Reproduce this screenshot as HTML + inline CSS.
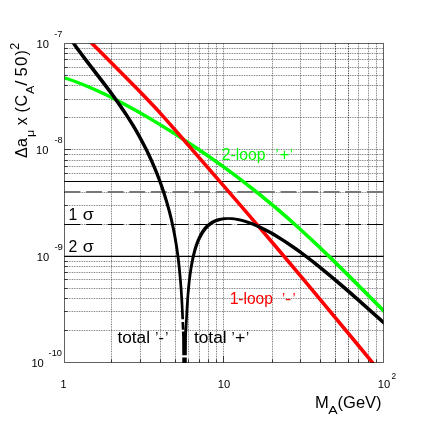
<!DOCTYPE html>
<html><head><meta charset="utf-8"><title>chart</title>
<style>text{font-family:"Liberation Sans",sans-serif}html,body{margin:0;padding:0;background:#fff}body{width:427px;height:427px;position:relative;overflow:hidden;font-family:"Liberation Sans",sans-serif}</style>
</head><body>
<svg width="427" height="427" viewBox="0 0 427 427" style="position:absolute;left:0;top:0;will-change:transform">
<defs><clipPath id="c"><rect x="64.5" y="43.5" width="319.0" height="319.5"/></clipPath></defs>
<path d="M64.5 149.5H383.5M64.5 117.5H383.5M64.5 99.5H383.5M64.5 85.5H383.5M64.5 75.5H383.5M64.5 67.5H383.5M64.5 59.5H383.5M64.5 53.5H383.5M64.5 48.5H383.5M64.5 256.5H383.5M64.5 224.5H383.5M64.5 205.5H383.5M64.5 192.5H383.5M64.5 181.5H383.5M64.5 173.5H383.5M64.5 166.5H383.5M64.5 160.5H383.5M64.5 154.5H383.5M64.5 330.5H383.5M64.5 311.5H383.5M64.5 298.5H383.5M64.5 288.5H383.5M64.5 279.5H383.5M64.5 272.5H383.5M64.5 266.5H383.5M64.5 261.5H383.5M111.5 43.5V362.5M140.5 43.5V362.5M160.5 43.5V362.5M175.5 43.5V362.5M188.5 43.5V362.5M199.5 43.5V362.5M208.5 43.5V362.5M216.5 43.5V362.5M223.5 43.5V362.5M272.5 43.5V362.5M300.5 43.5V362.5M320.5 43.5V362.5M335.5 43.5V362.5M348.5 43.5V362.5M358.5 43.5V362.5M368.5 43.5V362.5M376.5 43.5V362.5" stroke="#000" stroke-opacity="0.11" stroke-width="1" fill="none"/>
<path d="M64.5 149.5H383.5M64.5 117.5H383.5M64.5 99.5H383.5M64.5 85.5H383.5M64.5 75.5H383.5M64.5 67.5H383.5M64.5 59.5H383.5M64.5 53.5H383.5M64.5 48.5H383.5M64.5 256.5H383.5M64.5 224.5H383.5M64.5 205.5H383.5M64.5 192.5H383.5M64.5 181.5H383.5M64.5 173.5H383.5M64.5 166.5H383.5M64.5 160.5H383.5M64.5 154.5H383.5M64.5 330.5H383.5M64.5 311.5H383.5M64.5 298.5H383.5M64.5 288.5H383.5M64.5 279.5H383.5M64.5 272.5H383.5M64.5 266.5H383.5M64.5 261.5H383.5M111.5 43.5V362.5M140.5 43.5V362.5M160.5 43.5V362.5M175.5 43.5V362.5M188.5 43.5V362.5M199.5 43.5V362.5M208.5 43.5V362.5M216.5 43.5V362.5M223.5 43.5V362.5M272.5 43.5V362.5M300.5 43.5V362.5M320.5 43.5V362.5M335.5 43.5V362.5M348.5 43.5V362.5M358.5 43.5V362.5M368.5 43.5V362.5M376.5 43.5V362.5" stroke="#000" stroke-opacity="0.46" stroke-width="1.0" stroke-dasharray="1 1.46" fill="none"/>
<path d="M335.5 43.5V362.5M348.5 43.5V362.5" stroke="#000" stroke-opacity="0.45" stroke-dasharray="1 1.46" fill="none"/>
<g stroke="#000" stroke-opacity="0.7" stroke-width="1" fill="none">
<path d="M64.5 149.5h6.5"/>
<path d="M64.5 117.5h3.2"/>
<path d="M64.5 99.5h3.2"/>
<path d="M64.5 85.5h3.2"/>
<path d="M64.5 75.5h3.2"/>
<path d="M64.5 67.5h3.2"/>
<path d="M64.5 59.5h3.2"/>
<path d="M64.5 53.5h3.2"/>
<path d="M64.5 48.5h3.2"/>
<path d="M64.5 256.5h6.5"/>
<path d="M64.5 224.5h3.2"/>
<path d="M64.5 205.5h3.2"/>
<path d="M64.5 192.5h3.2"/>
<path d="M64.5 181.5h3.2"/>
<path d="M64.5 173.5h3.2"/>
<path d="M64.5 166.5h3.2"/>
<path d="M64.5 160.5h3.2"/>
<path d="M64.5 154.5h3.2"/>
<path d="M64.5 330.5h3.2"/>
<path d="M64.5 311.5h3.2"/>
<path d="M64.5 298.5h3.2"/>
<path d="M64.5 288.5h3.2"/>
<path d="M64.5 279.5h3.2"/>
<path d="M64.5 272.5h3.2"/>
<path d="M64.5 266.5h3.2"/>
<path d="M64.5 261.5h3.2"/>
<path d="M111.5 362.5v-3.2"/>
<path d="M140.5 362.5v-3.2"/>
<path d="M160.5 362.5v-3.2"/>
<path d="M175.5 362.5v-3.2"/>
<path d="M188.5 362.5v-3.2"/>
<path d="M199.5 362.5v-3.2"/>
<path d="M208.5 362.5v-3.2"/>
<path d="M216.5 362.5v-3.2"/>
<path d="M223.5 362.5v-6.5"/>
<path d="M272.5 362.5v-3.2"/>
<path d="M300.5 362.5v-3.2"/>
<path d="M320.5 362.5v-3.2"/>
<path d="M335.5 362.5v-3.2"/>
<path d="M348.5 362.5v-3.2"/>
<path d="M358.5 362.5v-3.2"/>
<path d="M368.5 362.5v-3.2"/>
<path d="M376.5 362.5v-3.2"/>
</g>
<path d="M64.5 181.5H383.5" stroke="#000" stroke-width="1.1"/>
<path d="M64.5 256.4H383.5" stroke="#000" stroke-width="1.1"/>
<path d="M64.5 192H383.5" stroke="#777" stroke-width="2" stroke-dasharray="15.9 5.7"/>
<path d="M64.5 224.5H383.5" stroke="#000" stroke-width="1.1" stroke-dasharray="15.9 5.7"/>
<g clip-path="url(#c)" stroke="none">
<polygon points="56.73,74.76 59.33,74.77 66.93,76.98 76.33,80.17 86.13,83.97 95.33,87.91 105.33,92.55 115.73,97.72 126.33,103.29 137.73,109.57 149.73,116.47 162.13,123.89 174.73,131.71 187.13,139.66 199.33,147.76 211.33,155.98 223.33,164.49 233.13,171.66 242.73,178.89 252.13,186.18 261.33,193.51 270.73,201.22 279.73,208.80 288.93,216.77 298.33,225.13 314.73,240.22 332.33,257.06 349.33,273.83 384.73,309.33 392.73,317.22 392.93,317.26 392.93,319.80 390.33,319.80 390.13,319.70 377.33,307.02 345.13,274.72 328.33,258.18 318.33,248.56 308.73,239.52 299.33,230.87 290.33,222.78 281.73,215.25 273.33,208.06 264.73,200.89 256.13,193.91 247.33,186.95 238.73,180.32 229.73,173.57 220.73,166.99 209.33,158.90 197.73,150.93 186.13,143.21 174.33,135.60 162.33,128.11 150.73,121.10 139.13,114.35 127.73,107.97 117.33,102.40 107.33,97.31 97.73,92.70 88.73,88.67 80.33,85.19 72.13,82.11 64.33,79.50 56.73,77.30" fill="#00ff00"/>
<polygon points="78.73,30.56 81.33,30.62 90.73,39.72 100.93,49.78 126.73,75.70 144.73,94.06 157.33,107.37 169.33,120.63 179.93,132.72 237.33,198.90 257.33,222.17 278.13,246.61 302.33,275.31 327.73,305.70 359.33,343.84 392.73,384.48 392.93,384.53 392.93,387.07 390.33,387.07 390.13,386.95 359.73,349.94 330.73,314.90 303.13,281.83 277.13,250.97 255.73,225.81 235.33,202.06 177.73,135.65 166.73,123.10 159.33,114.86 152.13,107.05 144.73,99.24 136.33,90.57 101.33,55.25 89.73,43.77 78.73,33.10" fill="#ff0000"/>
<polygon points="56.73,18.31 59.13,18.31 59.33,18.41 63.93,25.74 68.73,33.07 73.33,39.83 78.33,46.91 87.73,59.61 104.73,81.61 111.33,90.34 118.93,100.83 125.93,111.05 130.73,118.45 135.13,125.59 139.33,132.79 143.13,139.70 146.73,146.66 150.33,154.08 153.73,161.57 156.93,169.12 160.33,177.79 163.33,186.10 166.13,194.57 168.73,203.21 171.13,212.09 173.13,220.38 175.13,229.81 176.73,238.50 178.13,247.27 179.53,257.62 180.73,268.34 181.73,279.26 182.53,290.00 183.13,299.84 183.73,311.71 184.53,331.21 185.73,307.78 186.33,298.26 187.33,286.12 188.53,275.26 189.93,265.66 191.53,257.22 192.53,252.89 193.53,249.11 194.53,245.79 195.73,242.29 196.93,239.23 198.33,236.13 199.73,233.44 201.13,231.12 202.73,228.82 204.33,226.85 205.73,225.36 207.73,223.55 209.73,222.05 211.73,220.81 213.73,219.81 216.13,218.86 218.73,218.10 221.13,217.63 223.73,217.31 226.33,217.19 230.33,217.20 232.73,217.32 235.73,217.64 239.13,218.22 242.33,218.93 245.93,219.92 249.73,221.15 253.33,222.49 257.33,224.14 261.33,225.95 265.33,227.91 269.73,230.22 274.33,232.80 278.73,235.41 288.13,241.41 297.33,247.76 307.33,255.13 317.73,263.21 328.73,272.14 338.93,280.71 350.13,290.37 388.33,324.22 392.73,328.09 392.93,328.12 392.93,330.66 390.33,330.66 390.13,330.58 357.33,301.47 344.73,290.42 330.73,278.47 317.73,267.78 308.33,260.37 299.33,253.59 290.73,247.44 282.73,242.06 273.73,236.47 269.13,233.83 264.73,231.45 260.73,229.42 256.73,227.54 252.73,225.81 248.73,224.25 244.73,222.87 241.33,221.87 237.73,220.99 234.33,220.35 231.13,219.94 228.13,219.75 225.73,219.90 223.33,220.22 220.93,220.73 218.73,221.38 216.33,222.32 214.33,223.32 212.33,224.55 210.33,226.04 208.33,227.84 206.73,229.55 205.33,231.28 203.73,233.56 202.33,235.88 200.73,238.96 199.33,242.11 198.13,245.21 196.93,248.77 195.93,252.15 194.93,256.00 193.93,260.42 192.93,265.54 192.13,270.30 191.33,275.81 190.53,282.31 189.33,294.76 188.33,309.27 186.93,336.51 186.73,367.27 182.33,367.27 182.13,337.31 180.73,304.97 179.93,291.65 179.13,281.08 177.93,268.38 176.73,258.09 175.33,248.08 173.73,238.41 171.93,229.09 169.93,220.07 167.73,211.33 165.13,202.13 162.33,193.21 159.13,183.96 156.13,176.01 152.73,167.68 149.33,159.95 145.73,152.32 141.73,144.40 137.73,137.00 133.33,129.37 128.73,121.84 124.73,115.62 120.73,109.63 116.13,103.01 111.33,96.33 103.33,85.63 84.33,61.01 74.73,47.97 69.73,40.84 65.33,34.32 61.13,27.87 56.73,20.85" fill="#000"/>
<path d="M180.2 319.3h3.9v2.6h-3.9zM180.2 329.8h4v1.6h-4zM181 355.3h7.6v2.1h-7.6z" fill="#fff" style="display:inline"/>
</g>
<rect x="64.5" y="43.5" width="319.0" height="319.0" fill="none" stroke="#000" stroke-opacity="0.62" stroke-width="1"/>
<text x="36.6" y="47.9" font-size="10.6" textLength="12.4" lengthAdjust="spacingAndGlyphs">10</text>
<text x="54.2" y="36.9" font-size="8.4" textLength="8.2" lengthAdjust="spacingAndGlyphs">-7</text>
<text x="36.0" y="154.2" font-size="10.6" textLength="12.4" lengthAdjust="spacingAndGlyphs">10</text>
<text x="54.4" y="143.2" font-size="8.4" textLength="8.2" lengthAdjust="spacingAndGlyphs">-8</text>
<text x="36.8" y="260.6" font-size="10.6" textLength="12.4" lengthAdjust="spacingAndGlyphs">10</text>
<text x="54.4" y="249.6" font-size="8.4" textLength="8.6" lengthAdjust="spacingAndGlyphs">-9</text>
<text x="31.4" y="366.9" font-size="10.6" textLength="12.4" lengthAdjust="spacingAndGlyphs">10</text>
<text x="48.6" y="355.9" font-size="8.4" textLength="13.4" lengthAdjust="spacingAndGlyphs">-10</text>
<text x="60.6" y="388.2" font-size="10.8">1</text>
<text x="217.8" y="388.2" font-size="10.8" textLength="12.4" lengthAdjust="spacingAndGlyphs">10</text>
<text x="377.8" y="388.0" font-size="10.8" textLength="12.4" lengthAdjust="spacingAndGlyphs">10</text>
<text x="391.6" y="378.6" font-size="8.3">2</text>
<text x="315" y="407.8" font-size="16.5">M</text>
<text x="328.2" y="414.2" font-size="11.7" textLength="9.4" lengthAdjust="spacingAndGlyphs">A</text>
<text x="337.6" y="407.8" font-size="16.5">(GeV)</text>
<text x="68.6" y="219.5" font-size="15.8">1</text>
<text x="82.8" y="219.8" font-size="16.5" textLength="11.0" lengthAdjust="spacingAndGlyphs">σ</text>
<text x="68.6" y="251.5" font-size="15.8">2</text>
<text x="82.8" y="251.9" font-size="16.5" textLength="11.0" lengthAdjust="spacingAndGlyphs">σ</text>
<text x="221.8" y="159.9" font-size="16" fill="#00ff00" textLength="43.6" lengthAdjust="spacingAndGlyphs">2-loop</text>
<text x="275.6" y="158.6" font-size="14" fill="#00ff00">’</text>
<text x="279.5" y="159.9" font-size="16" fill="#00ff00" textLength="9.9" lengthAdjust="spacingAndGlyphs">+</text>
<text x="289.8" y="158.6" font-size="14" fill="#00ff00">’</text>
<text x="229.8" y="304.3" font-size="16" fill="#ff0000">1</text>
<text x="238.3" y="304.3" font-size="16" fill="#ff0000" textLength="34.6" lengthAdjust="spacingAndGlyphs">-loop</text>
<text x="282.0" y="303.0" font-size="14" fill="#ff0000">’</text>
<text x="285.1" y="304.3" font-size="16" fill="#ff0000" textLength="6.2" lengthAdjust="spacingAndGlyphs">-</text>
<text x="292.5" y="303.0" font-size="14" fill="#ff0000">’</text>
<text x="117.4" y="343.2" font-size="16" textLength="32.6" lengthAdjust="spacingAndGlyphs">total</text>
<text x="155.3" y="341.9" font-size="14">’</text>
<text x="158.6" y="343.2" font-size="16" textLength="5.4" lengthAdjust="spacingAndGlyphs">-</text>
<text x="165.3" y="341.9" font-size="14">’</text>
<text x="193.9" y="343.2" font-size="16" textLength="32.8" lengthAdjust="spacingAndGlyphs">total</text>
<text x="231.6" y="341.9" font-size="14">’</text>
<text x="234.9" y="343.2" font-size="16" textLength="10.3" lengthAdjust="spacingAndGlyphs">+</text>
<text x="246.0" y="341.9" font-size="14">’</text>
<g transform="translate(27.4,158) rotate(-90)" fill="#000">
<text x="0" y="0" font-size="16">Δ</text>
<text x="11.0" y="0" font-size="16">a</text>
<text x="21.0" y="6.8" font-size="11.5" textLength="7.2" lengthAdjust="spacingAndGlyphs">μ</text>
<text x="32.7" y="0" font-size="16">x</text>
<text x="45.6" y="0" font-size="16">(</text>
<text x="51.6" y="0" font-size="16">C</text>
<text x="64.0" y="6.4" font-size="11.5" textLength="8.4" lengthAdjust="spacingAndGlyphs">A</text>
<text x="72.2" y="0" font-size="16" textLength="5.2" lengthAdjust="spacingAndGlyphs">/</text>
<text x="81.6" y="0" font-size="16" textLength="9.3" lengthAdjust="spacingAndGlyphs">5</text>
<text x="92.0" y="0" font-size="16" textLength="9.3" lengthAdjust="spacingAndGlyphs">0</text>
<text x="102.5" y="0" font-size="16">)</text>
<text x="108.2" y="-8.6" font-size="12.5">2</text>
</g>
</svg>
</body></html>
